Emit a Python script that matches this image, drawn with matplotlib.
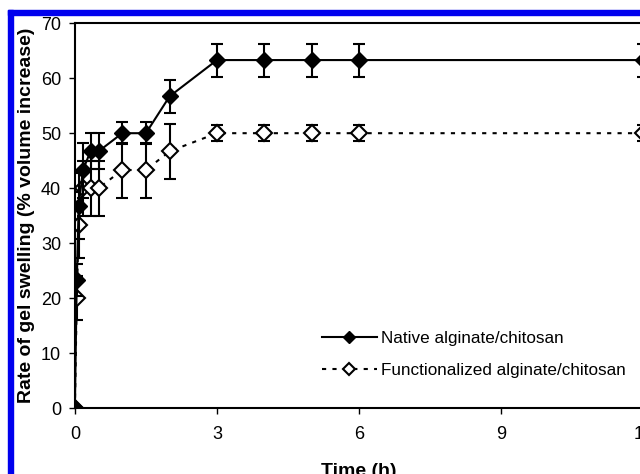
import matplotlib.pyplot as plt
from matplotlib.lines import Line2D
from matplotlib.patches import Rectangle

plt.rcParams['font.family'] = ['Liberation Sans', 'DejaVu Sans']

# time points (h)
time_h = [0, 0.04, 0.08, 0.17, 0.33, 0.5, 1, 1.5, 2, 3, 4, 5, 6, 12]

# native alginate/chitosan
native = [0, 23.3, 36.7, 43.3, 46.7, 46.7, 50, 50, 56.7, 63.3, 63.3, 63.3, 63.3, 63.3]
native_err = [0, 3, 6, 5, 3.3, 3.3, 2, 2, 3, 3, 3, 3, 3, 3]

# functionalized alginate/chitosan
func = [0, 20, 33.3, 40, 40, 40, 43.3, 43.3, 46.7, 50, 50, 50, 50, 50]
func_err = [0, 4, 6, 5, 5, 5, 5, 5, 5, 1.5, 1.5, 1.5, 1.5, 1.5]

x_ticks = [0, 3, 6, 9, 12]
y_ticks = [0, 10, 20, 30, 40, 50, 60, 70]

fig = plt.figure(figsize=(6.4, 4.74), dpi=100)
ax = fig.add_axes([0.117, 0.139, 0.888, 0.812])

func_style = dict(color='black', linestyle=(0, (2, 3)), linewidth=1.5,
                  marker='D', markersize=8, markerfacecolor='white',
                  markeredgecolor='black', markeredgewidth=1.5)
native_style = dict(color='black', linestyle='-', linewidth=1.5,
                    marker='D', markersize=8, markerfacecolor='black',
                    markeredgecolor='black')

ax.errorbar(time_h, func, yerr=func_err, ecolor='black', elinewidth=1.5,
            capsize=4, capthick=1.5, zorder=2, **func_style)
ax.errorbar(time_h, native, yerr=native_err, ecolor='black', elinewidth=1.5,
            capsize=4, capthick=1.5, zorder=3, **native_style)

ax.set_xlim(0, 12)
ax.set_ylim(0, 70)
ax.set_xticks(x_ticks)
ax.set_yticks(y_ticks)
ax.tick_params(direction='out', length=4, width=1, labelsize=13)
ax.tick_params(axis='x', pad=9)
ax.tick_params(axis='y', pad=6)
for s in ax.spines.values():
    s.set_linewidth(1.5)
ax.spines['right'].set_visible(False)

ax.set_xlabel('Time (h)', fontsize=14, fontweight='bold', labelpad=14)
ax.set_ylabel('Rate of gel swelling (% volume increase)', fontsize=14,
              fontweight='bold', labelpad=4)

# legend shows plain line + small marker, no error bars
handles = [Line2D([], [], **{**native_style, 'markersize': 6}),
           Line2D([], [], **{**func_style, 'markersize': 6})]
labels = ['Native alginate/chitosan', 'Functionalized alginate/chitosan']
ax.legend(handles, labels, loc='upper left', bbox_to_anchor=(0.435, 0.2),
          frameon=False, fontsize=12.3, handlelength=3.2, handletextpad=0.25,
          labelspacing=1.0, borderpad=0, borderaxespad=0)

# blue frame around the cropped figure
fig.patches.append(Rectangle((8 / 640, 0), 5 / 640, 1 - 10 / 474,
                             transform=fig.transFigure, color='#0000ee',
                             zorder=10))
fig.patches.append(Rectangle((8 / 640, 1 - 15 / 474), 1, 5 / 474,
                             transform=fig.transFigure, color='#0000ee',
                             zorder=10))

fig.savefig('out.png', dpi=100)
